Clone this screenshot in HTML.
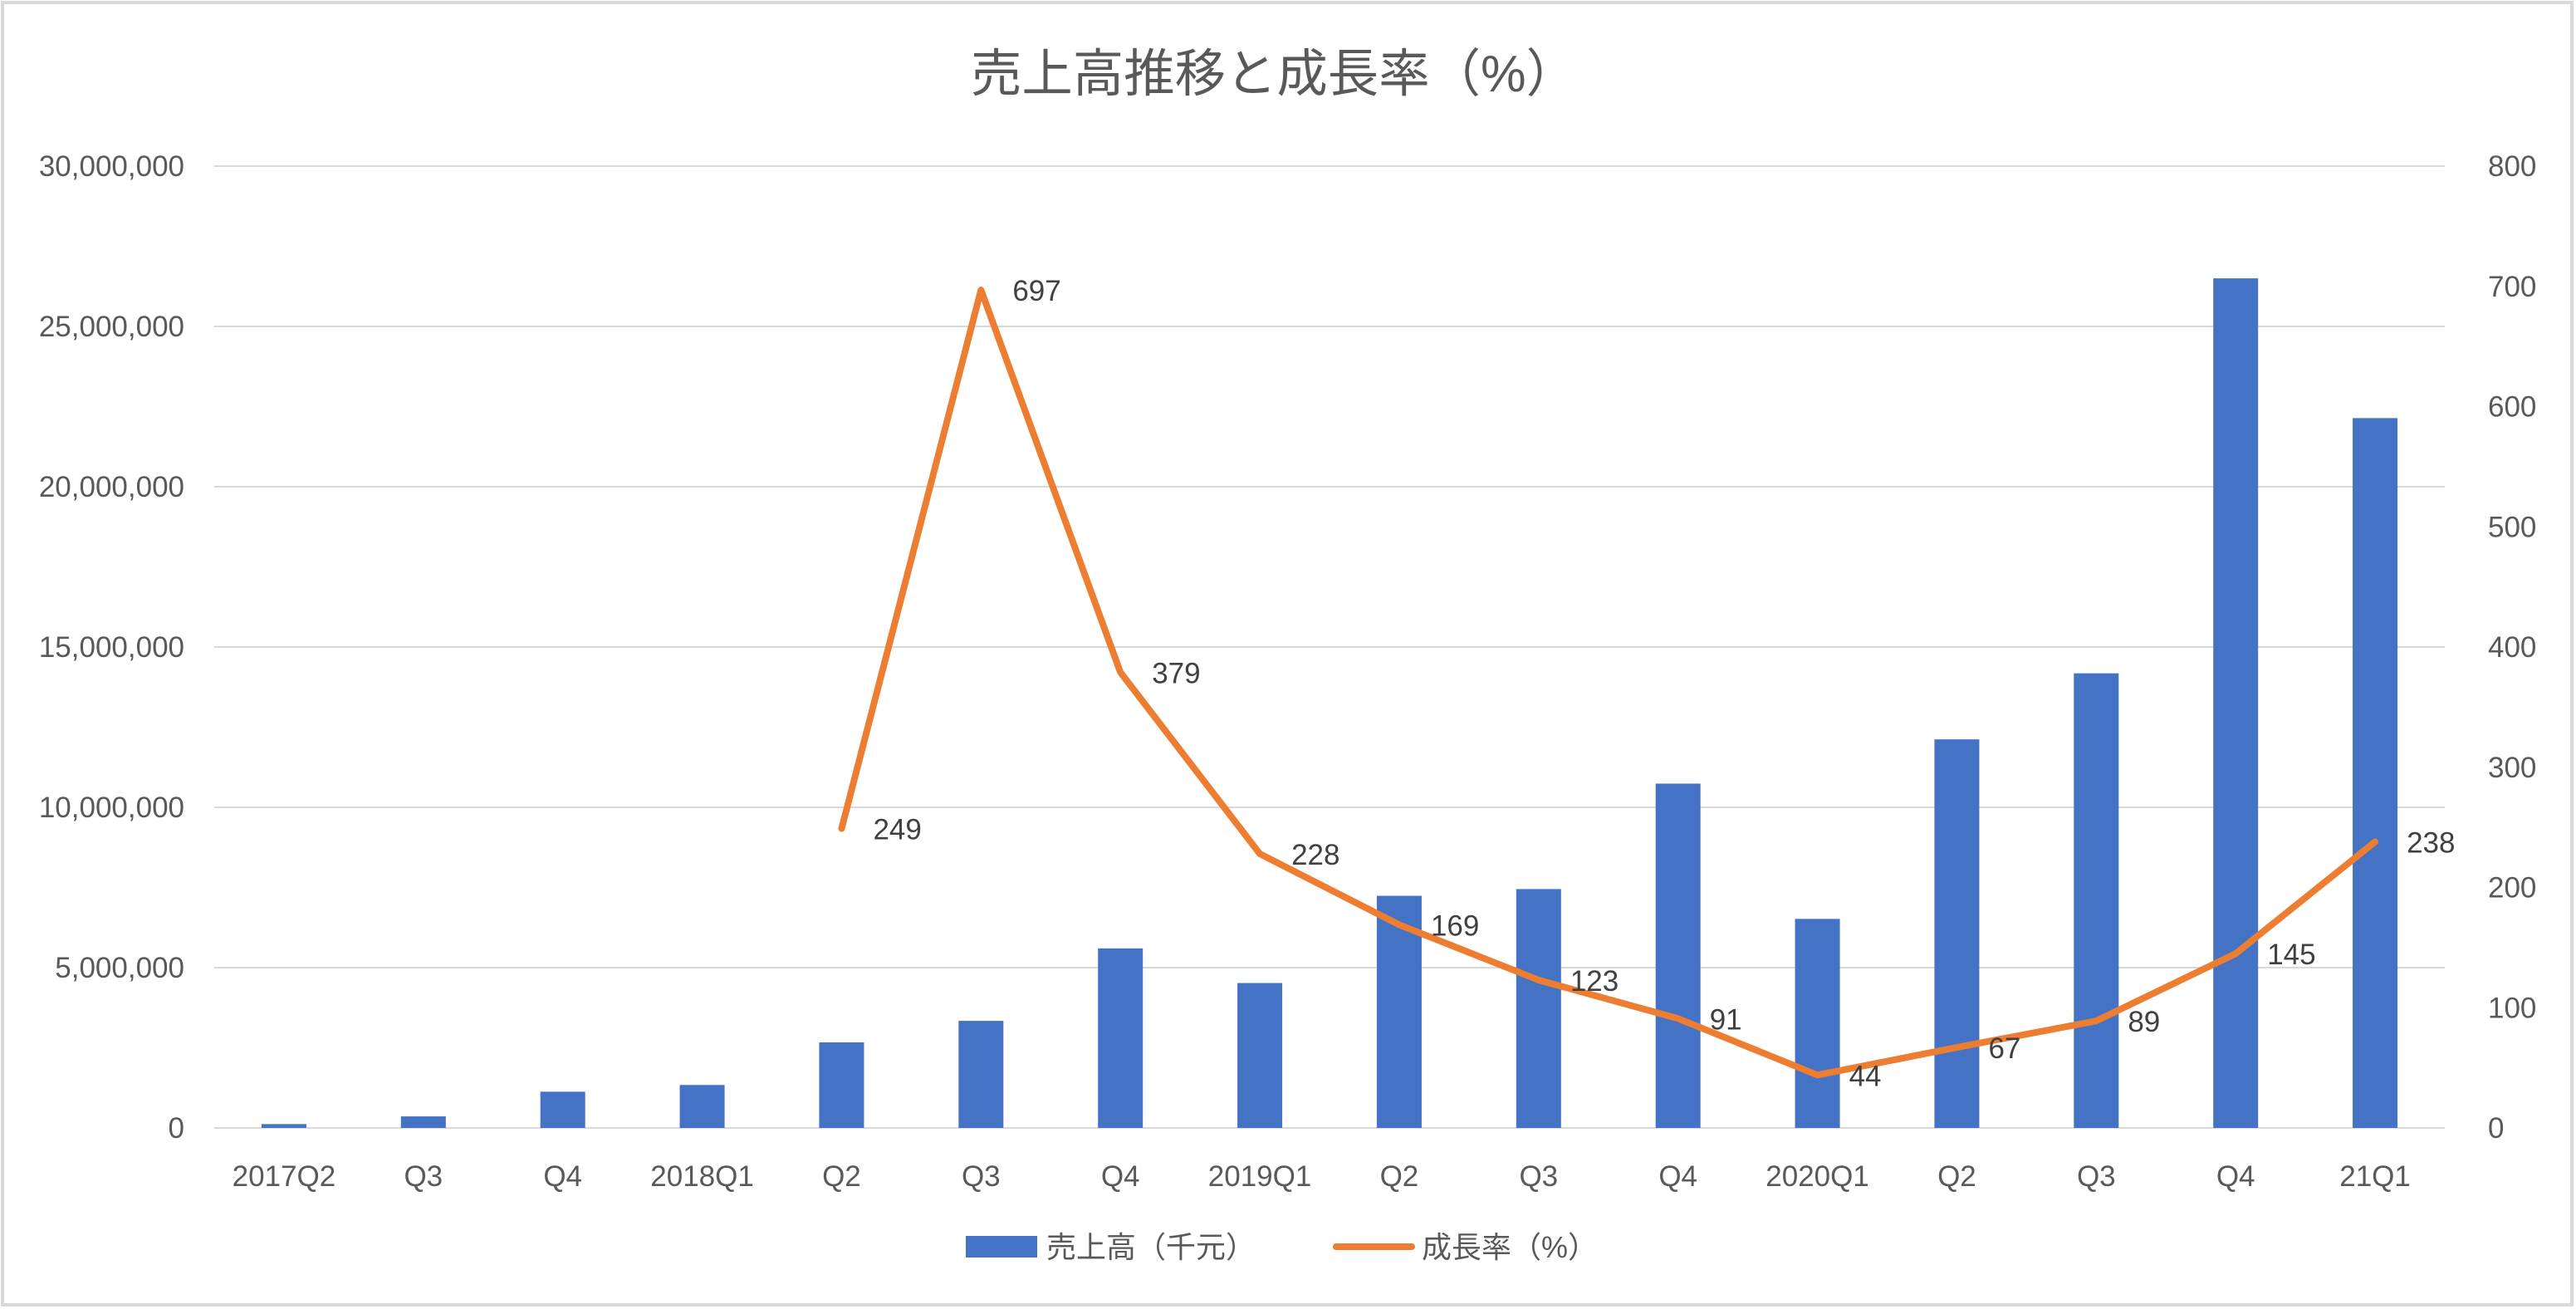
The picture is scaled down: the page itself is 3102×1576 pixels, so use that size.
<!DOCTYPE html>
<html><head><meta charset="utf-8"><style>
html,body{margin:0;padding:0;background:#fff;}
svg{display:block;}
text{font-family:"Liberation Sans","Noto Sans CJK JP",sans-serif;fill:#595959;}
</style></head><body>
<svg id="chart" width="3102" height="1576" viewBox="0 0 3102 1576" xmlns="http://www.w3.org/2000/svg">
<rect x="3" y="3" width="3094" height="1568" fill="#fff" stroke="#d9d9d9" stroke-width="4"/>
<text x="1534" y="110" text-anchor="middle" font-size="62" textLength="730" lengthAdjust="spacingAndGlyphs">売上高推移と成長率（%）</text>
<g id="grid"></g><g id="bars"></g><g id="line"></g><g id="labels"></g><g id="axes"></g>
<g>
<rect x="1163" y="1488" width="86" height="26" fill="#4472C4"/>
<text x="1260" y="1514" font-size="36">売上高（千元）</text>
<line x1="1609" y1="1501" x2="1700" y2="1501" stroke="#ED7D31" stroke-width="8" stroke-linecap="round"/>
<text x="1712" y="1514" font-size="36">成長率（%）</text>
</g>
</svg>
<script>
const categories=["2017Q2","Q3","Q4","2018Q1","Q2","Q3","Q4","2019Q1","Q2","Q3","Q4","2020Q1","Q2","Q3","Q4","21Q1"];
const sales=[120000,360000,1130000,1340000,2670000,3340000,5600000,4520000,7240000,7450000,10740000,6520000,12120000,14180000,26500000,22140000];
const growth=[null,null,null,null,249,697,379,228,169,123,91,44,67,89,145,238];
const leftTicks=[0,5000000,10000000,15000000,20000000,25000000,30000000];
const rightTicks=[0,100,200,300,400,500,600,700,800];
const NS="http://www.w3.org/2000/svg";
const L=258,R=2944,T=200,B=1358;
const band=(R-L)/categories.length;
const xc=i=>L+band*(i+0.5);
const yL=v=>B-(v/30000000)*(B-T);
const yR=v=>B-(v/800)*(B-T);
function mk(tag,parent,attrs){const e=document.createElementNS(NS,tag);for(const k in attrs)e.setAttribute(k,attrs[k]);document.getElementById(parent).appendChild(e);return e;}
leftTicks.forEach(v=>{
  const g=mk('line','grid',{x1:L,x2:R,y1:yL(v),y2:yL(v),stroke:'#d9d9d9','stroke-width':2});
  
  
  const t=mk('text','axes',{x:222,y:yL(v)+12,'text-anchor':'end','font-size':35});
  t.textContent=v.toLocaleString('en-US');
  
  
});
rightTicks.forEach(v=>{
  const t=mk('text','axes',{x:2996,y:yR(v)+12,'text-anchor':'start','font-size':35});
  t.textContent=v;
  
  
});
const bw=54;
sales.forEach((v,i)=>{
  const r=mk('rect','bars',{x:xc(i)-bw/2,y:yL(v),width:bw,height:B-yL(v),fill:'#4472C4'});
  
  
});
categories.forEach((c,i)=>{
  const t=mk('text','axes',{x:xc(i),y:1428,'text-anchor':'middle','font-size':35});
  t.textContent=c;
  
  
});
let d='';
growth.forEach((v,i)=>{ if(v===null)return; d+=(d?'L':'M')+xc(i)+','+yR(v); });
const p=mk('path','line',{d:d,fill:'none',stroke:'#ED7D31','stroke-width':8,'stroke-linejoin':'round','stroke-linecap':'round'});


growth.forEach((v,i)=>{
  if(v===null)return;
  const t=mk('text','labels',{x:xc(i)+38,y:yR(v)+13,'font-size':35,style:'fill:#404040'});
  t.textContent=v;
  
  
});
</script>
</body></html>
